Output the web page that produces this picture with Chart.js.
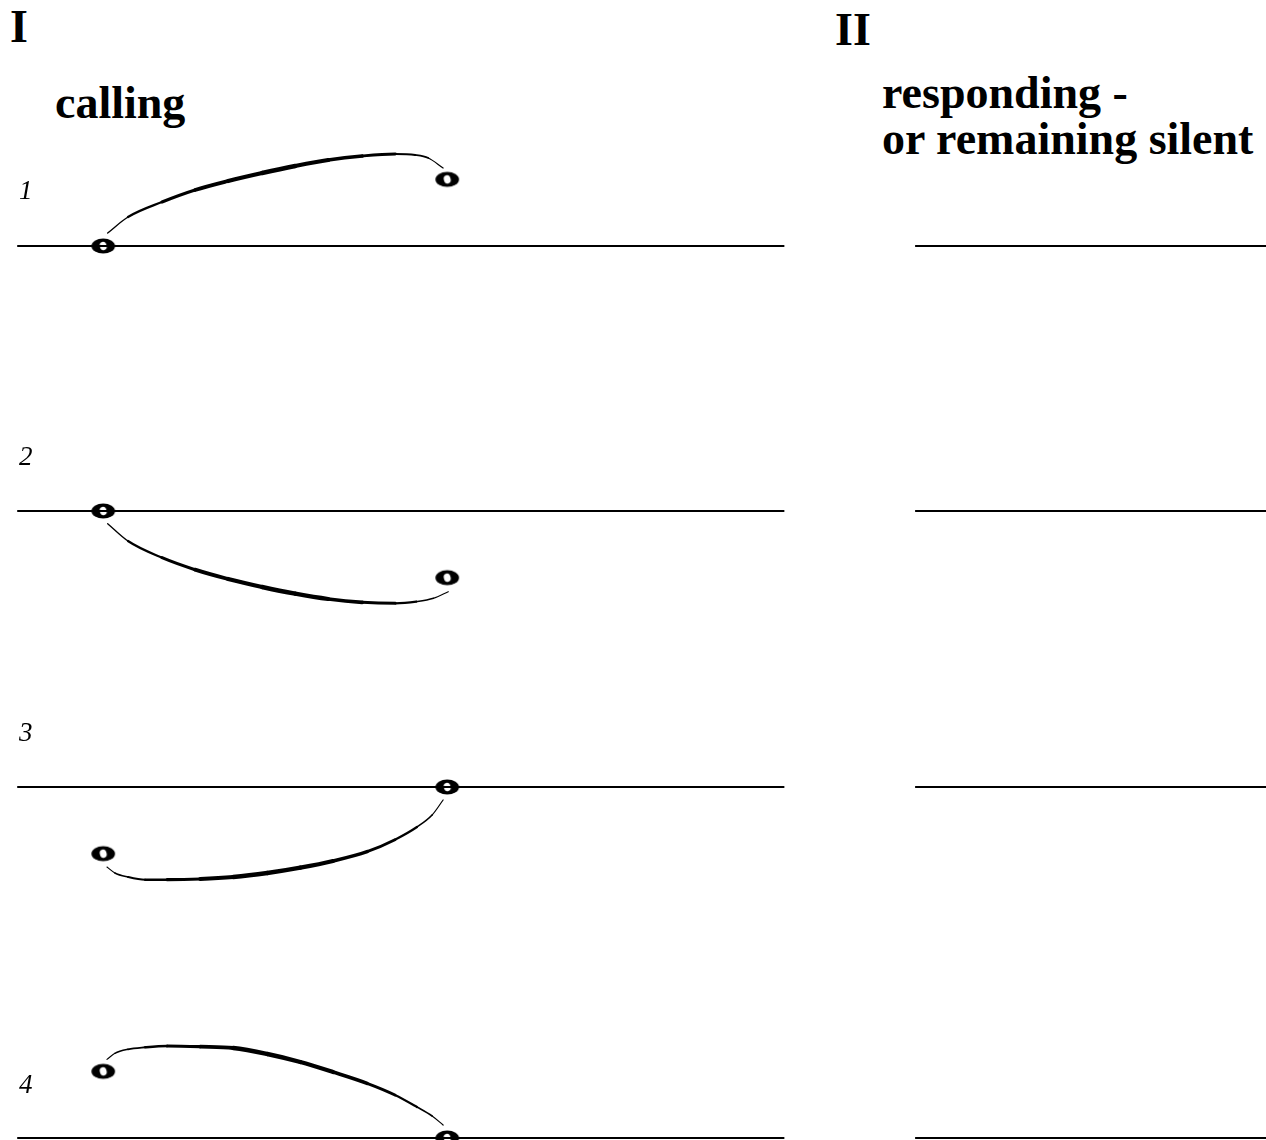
<!DOCTYPE html>
<html>
<head>
<meta charset="utf-8">
<script src="https://cdn.jsdelivr.net/npm/chart.js@4.4.1/dist/chart.umd.min.js"></script>
<style>
  html, body { margin: 0; padding: 0; background: #fff; }
  body { width: 1266px; height: 1140px; overflow: hidden; position: relative; font-family: "Liberation Serif", serif; color: #000; }
  .txt { position: absolute; line-height: 1; white-space: nowrap; }
  .head { font-weight: bold; font-size: 46px; }
  .num { font-style: italic; font-size: 27px; left: 19px; }
  canvas.row { position: absolute; left: 0; }
</style>
</head>
<body>
<div class="txt head" style="left:10px; top:4px;">I</div>
<div class="txt head" style="left:55px; top:80px;">calling</div>
<div class="txt head" style="left:835px; top:7px;">II</div>
<div class="txt head" style="left:882px; top:70px;">responding -</div>
<div class="txt head" style="left:882px; top:116px;">or remaining silent</div>

<canvas class="row" id="row1" width="1266" height="200" style="top:146px"></canvas>
<canvas class="row" id="row2" width="1266" height="200" style="top:411px"></canvas>
<canvas class="row" id="row3" width="1266" height="200" style="top:687px"></canvas>
<canvas class="row" id="row4" width="1266" height="200" style="top:1038px"></canvas>

<script>
// rows of the figure
const rowLabels = ['1', '2', '3', '4'];
const labelTops = [177, 443, 719, 1071];

// two notes per row: time 0 and time 1, pitch relative to the line (1 = one step)
const noteTimes = [0, 1];
const firstPitch = [0, 0, -1, 1];
const secondPitch = [1, -1, 0, 0];

// the line ("calling" part and "responding" part), in time units
const callLine = [-0.25, 1.98];
const answerLine = [2.36, 3.38];

// slur points
const slurX = [
  [0.013, 0.072, 0.171, 0.267, 0.363, 0.462, 0.558, 0.654, 0.753, 0.849, 0.907, 0.945, 0.988],
  [0.013, 0.072, 0.171, 0.267, 0.363, 0.462, 0.558, 0.654, 0.753, 0.849, 0.910, 0.960, 1.003],
  [0.011, 0.034, 0.072, 0.122, 0.186, 0.282, 0.378, 0.477, 0.573, 0.668, 0.767, 0.848, 0.912, 0.956, 0.988],
  [0.011, 0.034, 0.072, 0.122, 0.186, 0.282, 0.378, 0.477, 0.573, 0.668, 0.767, 0.848, 0.912, 0.956, 0.988]
];
const slurY = [
  [0.195, 0.435, 0.66, 0.84, 0.975, 1.095, 1.20, 1.29, 1.35, 1.38, 1.365, 1.32, 1.17],
  [-0.19, -0.45, -0.70, -0.88, -1.02, -1.14, -1.24, -1.32, -1.37, -1.385, -1.36, -1.31, -1.21],
  [-1.20, -1.29, -1.35, -1.39, -1.39, -1.38, -1.35, -1.29, -1.21, -1.11, -0.97, -0.79, -0.60, -0.42, -0.195],
  [1.18, 1.27, 1.33, 1.36, 1.38, 1.37, 1.35, 1.26, 1.14, 0.99, 0.82, 0.645, 0.465, 0.33, 0.195]
];

// note head: bold serif "o" with a small see-through middle
function makeNoteHead() {
  const c = document.createElement('canvas');
  c.width = 26;
  c.height = 18;
  const g = c.getContext('2d');
  g.fillStyle = '#000';
  g.beginPath();
  g.ellipse(13, 9, 11.8, 7.6, 0, 0, Math.PI * 2);
  g.fill();
  g.globalCompositeOperation = 'destination-out';
  g.beginPath();
  g.ellipse(13, 9, 3.4, 4.2, -0.3, 0, Math.PI * 2);
  g.fill();
  return c;
}
const noteHead = makeNoteHead();

rowLabels.forEach((label, i) => {
  const div = document.createElement('div');
  div.className = 'txt num';
  div.style.top = labelTops[i] + 'px';
  div.textContent = label;
  document.body.appendChild(div);
});

// slur gets thin at its ends and thick in the middle
function slurWidth(c) {
  const xm = (c.p0.parsed.x + c.p1.parsed.x) / 2;
  return 0.9 + 3.5 * Math.sin(Math.PI * Math.min(1, Math.max(0, xm)));
}

function makeRow(i) {
  const ctx = document.getElementById('row' + (i + 1));
  const slur = slurX[i].map((x, k) => ({ x: x, y: slurY[i][k] }));

  return new Chart(ctx, {
    type: 'scatter',
    data: {
      datasets: [
        {
          label: 'notes',
          data: [
            { x: noteTimes[0], y: firstPitch[i] },
            { x: noteTimes[1], y: secondPitch[i] }
          ],
          pointStyle: noteHead,
          pointRadius: 8,
          showLine: false
        },
        {
          label: 'slur',
          data: slur,
          showLine: true,
          cubicInterpolationMode: 'monotone',
          pointRadius: 0,
          borderColor: '#000',
          borderCapStyle: 'round',
          borderJoinStyle: 'round',
          segment: { borderWidth: slurWidth }
        },
        {
          label: 'line',
          data: callLine.map(x => ({ x: x, y: 0 })),
          showLine: true,
          pointRadius: 0,
          borderColor: '#000',
          borderWidth: 1.8
        },
        {
          label: 'answer line',
          data: answerLine.map(x => ({ x: x, y: 0 })),
          showLine: true,
          pointRadius: 0,
          borderColor: '#000',
          borderWidth: 1.8
        }
      ]
    },
    options: {
      responsive: false,
      animation: false,
      events: [],
      layout: { padding: 0, autoPadding: false },
      plugins: {
        legend: { display: false },
        tooltip: { enabled: false }
      },
      scales: {
        x: { type: 'linear', min: -0.3, max: 3.38, display: false },
        y: { type: 'linear', min: -1.5, max: 1.5, display: false }
      }
    }
  });
}

rowLabels.forEach((_, i) => makeRow(i));
</script>
</body>
</html>
